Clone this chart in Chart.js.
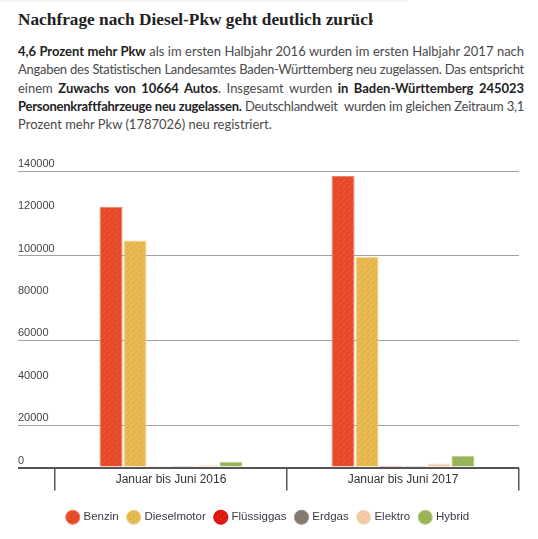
<!DOCTYPE html>
<html>
<head>
<meta charset="utf-8">
<script src="https://cdn.jsdelivr.net/npm/chart.js@4"></script>
<style>
  html, body { margin: 0; padding: 0; background: #fff; }
  body { width: 538px; height: 539px; position: relative; overflow: hidden; }
  .topband { position: absolute; left: 0; top: 0; width: 408px; height: 2px; background: #f4f4f4; }
  .title {
    position: absolute; left: 18px; top: 10px; width: 355px; overflow: hidden; white-space: nowrap;
    font-family: "Liberation Serif", serif; font-weight: bold; font-size: 17.3px; line-height: 20px; color: #222;
  }
  .text {
    position: absolute; left: 18px; top: 42px; width: 506px;
    font-family: "Liberation Sans Narrow", "Lato", sans-serif; font-size: 13px; line-height: 18.3px; color: #4a4a4a;
  }
  .text .l { text-align: justify; text-align-last: justify; white-space: nowrap; }
  .text .l.last { text-align: left; text-align-last: left; }
  .text b { color: #222; }
  .chart { position: absolute; left: 0; top: 150px; width: 538px; height: 389px; }
</style>
</head>
<body>
<div class="topband"></div>
<div class="title">Nachfrage nach Diesel-Pkw geht deutlich zurück</div>
<div class="text">
  <div class="l"><b>4,6 Prozent mehr Pkw</b> als im ersten Halbjahr 2016 wurden im ersten Halbjahr 2017 nach</div>
  <div class="l">Angaben des Statistischen Landesamtes Baden-Württemberg neu zugelassen. Das entspricht</div>
  <div class="l">einem <b>Zuwachs von 10664 Autos</b>. Insgesamt wurden <b>in Baden-Württemberg 245023</b></div>
  <div class="l"><b>Personenkraftfahrzeuge neu zugelassen.</b> Deutschlandweit &nbsp;wurden im gleichen Zeitraum 3,1</div>
  <div class="l last">Prozent mehr Pkw (1787026) neu registriert.</div>
</div>
<div class="chart"><canvas id="c"></canvas></div>
<script>
// squeeze lines that are wider than the column
document.querySelectorAll('.text .l').forEach(function (el) {
  const probe = document.createElement('span');
  probe.innerHTML = el.innerHTML;
  probe.style.whiteSpace = 'nowrap';
  el.innerHTML = '';
  el.appendChild(probe);
  const w = probe.getBoundingClientRect().width;
  const n = probe.textContent.length;
  el.innerHTML = probe.innerHTML;
  if (w > 504) el.style.letterSpacing = (-(w - 504) / n) + 'px';
});

const categories = ['Januar bis Juni 2016', 'Januar bis Juni 2017'];
const fuelTypes = ['Benzin', 'Dieselmotor', 'Flüssiggas', 'Erdgas', 'Elektro', 'Hybrid'];
const benzin = [123100, 137600];
const diesel = [107200, 99500];
const fluessiggas = [600, 700];
const erdgas = [150, 120];
const elektro = [1100, 1900];
const hybrid = [2700, 5500];
const yTicks = [0, 20000, 40000, 60000, 80000, 100000, 120000, 140000];
const gridTicks = [20000, 60000, 100000, 140000];

// stippled fill like the original bars
function stipple(base, dot) {
  const t = document.createElement('canvas');
  t.width = 6; t.height = 6;
  const g = t.getContext('2d');
  g.fillStyle = base;
  g.fillRect(0, 0, 6, 6);
  g.fillStyle = dot;
  g.fillRect(1, 1, 1, 1);
  g.fillRect(4, 3, 1, 1);
  g.fillRect(2, 5, 1, 1);
  return g.createPattern(t, 'repeat');
}

const fills = [
  stipple('#e5492a', '#ee6a40'),
  stipple('#e7bb50', '#d99a45'),
  stipple('#e0140f', '#ea4a30'),
  '#857a6f',
  stipple('#f3cca6', '#eab48c'),
  stipple('#9bb65a', '#8aa64c')
];
const edges = ['#f08060', '#f3d58a', '#c8100c', '#9a9085', '#f8e0c8', '#b8cf84'];
const series = [benzin, diesel, fluessiggas, erdgas, elektro, hybrid];

new Chart(document.getElementById('c'), {
  type: 'bar',
  data: {
    labels: categories,
    datasets: fuelTypes.map(function (name, i) {
      return {
        label: name,
        data: series[i],
        backgroundColor: fills[i],
        borderColor: edges[i],
        borderWidth: 1,
        categoryPercentage: 0.62,
        barPercentage: 0.96
      };
    })
  },
  options: {
    responsive: true,
    maintainAspectRatio: false,
    animation: false,
    layout: { padding: { left: 18, right: 19, top: 21, bottom: 6 } },
    plugins: {
      tooltip: { enabled: false },
      legend: {
        position: 'bottom',
        labels: {
          usePointStyle: true,
          pointStyle: 'circle',
          boxWidth: 10,
          boxHeight: 10,
          padding: 10,
          color: '#3a3a44',
          font: { family: 'Liberation Sans', size: 11.5 }
        }
      }
    },
    scales: {
      x: {
        border: { display: false },
        grid: {
          offset: true,
          drawOnChartArea: false,
          drawTicks: true,
          tickLength: 23,
          color: '#555',
          lineWidth: 1.5
        },
        ticks: {
          padding: -18,
          color: '#333',
          font: { family: 'Liberation Sans', size: 12 }
        },
        afterFit: function (s) { s.height = 34; }
      },
      y: {
        min: 0,
        max: 140000,
        border: { display: false },
        afterBuildTicks: function (s) { s.ticks = yTicks.map(function (v) { return { value: v }; }); },
        afterFit: function (s) { s.width = 37; },
        grid: {
          tickLength: 37,
          color: function (c) {
            if (!c.tick) return 'transparent';
            if (c.tick.value === 0) return '#555';
            return gridTicks.indexOf(c.tick.value) >= 0 ? '#a3a3a3' : 'transparent';
          },
          lineWidth: function (c) { return c.tick && c.tick.value === 0 ? 2 : 1; }
        },
        ticks: {
          crossAlign: 'far',
          labelOffset: -7,
          color: '#444',
          font: { family: 'Liberation Sans', size: 11 },
          callback: function (v) { return String(v); }
        }
      }
    }
  }
});
</script>
</body>
</html>
